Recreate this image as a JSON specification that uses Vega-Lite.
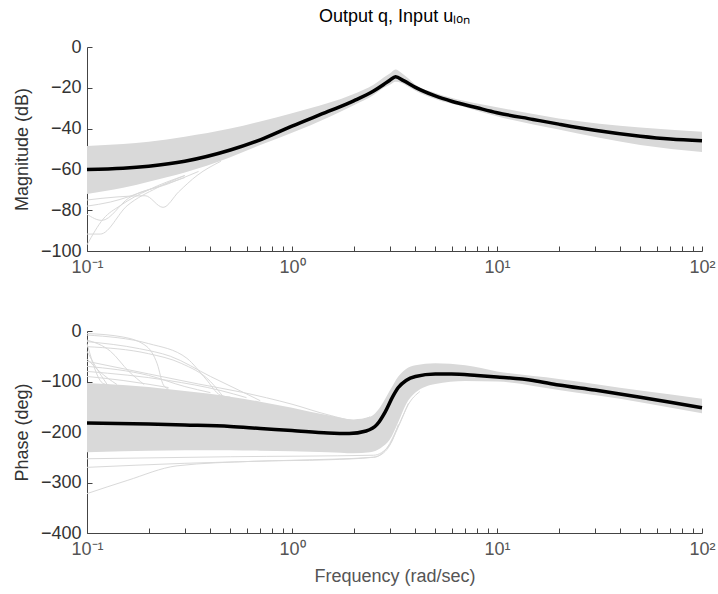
{
  "$schema": "https://vega.github.io/schema/vega-lite/v6.json",
  "padding": {"left": 13, "top": 8, "right": 2, "bottom": 4},
  "background": "white",
  "spacing": 46,
  "config": {
    "view": {"stroke": null},
    "font": "Liberation Sans",
    "axis": {
      "grid": false,
      "labelFont": "Liberation Sans",
      "titleFont": "Liberation Sans",
      "labelFontSize": 18,
      "titleFontSize": 18,
      "titleFontWeight": "normal",
      "domainColor": "#444444",
      "tickColor": "#444444",
      "tickSize": -5,
      "labelPadding": 12,
      "domainWidth": 1,
      "tickWidth": 1
    },
    "axisX": {"labelColor": "#555555", "titleColor": "#555555", "labelFlush": false, "labelOverlap": false},
    "axisY": {"labelColor": "#333333", "titleColor": "#333333", "labelPadding": 11, "titlePadding": 9}
  },
  "datasets": {
    "magBand": [
      {"f": 0.1, "hi": -48.5, "lo": -72},
      {"f": 0.15, "hi": -47.6, "lo": -69},
      {"f": 0.2, "hi": -46.5, "lo": -66},
      {"f": 0.3, "hi": -44, "lo": -61.5},
      {"f": 0.5, "hi": -40, "lo": -54},
      {"f": 0.7, "hi": -36.5, "lo": -48},
      {"f": 1.0, "hi": -32.5, "lo": -42},
      {"f": 1.5, "hi": -27.5, "lo": -34.5},
      {"f": 2.0, "hi": -23, "lo": -28.5},
      {"f": 2.5, "hi": -18.5, "lo": -23.5},
      {"f": 2.8, "hi": -15, "lo": -20},
      {"f": 3.0, "hi": -13, "lo": -18.5},
      {"f": 3.2, "hi": -11, "lo": -17},
      {"f": 3.4, "hi": -12.5, "lo": -17.5},
      {"f": 3.7, "hi": -15.5, "lo": -19.5},
      {"f": 4.0, "hi": -18.5, "lo": -21.5},
      {"f": 5.0, "hi": -22.5, "lo": -25.5},
      {"f": 7.0, "hi": -26.5, "lo": -29.5},
      {"f": 10, "hi": -29.5, "lo": -34},
      {"f": 20, "hi": -35, "lo": -40.5},
      {"f": 50, "hi": -39.5, "lo": -48},
      {"f": 100, "hi": -41.5, "lo": -51.5}
    ],
    "magMean": [
      {"f": 0.1, "v": -60},
      {"f": 0.15, "v": -59.4},
      {"f": 0.2, "v": -58.4},
      {"f": 0.3, "v": -56},
      {"f": 0.5, "v": -50.5},
      {"f": 0.7, "v": -45.5},
      {"f": 1.0, "v": -38.8},
      {"f": 1.5, "v": -31.6},
      {"f": 2.0, "v": -26.4},
      {"f": 2.5, "v": -21.6},
      {"f": 2.8, "v": -18.4},
      {"f": 3.0, "v": -16.3},
      {"f": 3.2, "v": -14.6},
      {"f": 3.5, "v": -16.5},
      {"f": 4.0, "v": -19.8},
      {"f": 5.0, "v": -24},
      {"f": 6.0, "v": -26.6},
      {"f": 8.0, "v": -29.8},
      {"f": 10, "v": -32.2},
      {"f": 15, "v": -35.5},
      {"f": 20, "v": -37.8},
      {"f": 30, "v": -40.8},
      {"f": 50, "v": -43.7},
      {"f": 70, "v": -45.1},
      {"f": 100, "v": -46}
    ],
    "magOut": [
      {"id": "m1", "f": 0.1, "v": -75},
      {"id": "m1", "f": 0.14, "v": -73.5},
      {"id": "m1", "f": 0.192, "v": -72.9},
      {"id": "m1", "f": 0.235, "v": -78.6},
      {"id": "m1", "f": 0.28, "v": -71},
      {"id": "m1", "f": 0.344, "v": -63},
      {"id": "m1", "f": 0.45, "v": -56},
      {"id": "m2", "f": 0.1, "v": -91.7},
      {"id": "m2", "f": 0.116, "v": -91.7},
      {"id": "m2", "f": 0.157, "v": -77.8},
      {"id": "m2", "f": 0.22, "v": -69},
      {"id": "m2", "f": 0.3, "v": -63},
      {"id": "m3", "f": 0.1, "v": -97},
      {"id": "m3", "f": 0.12, "v": -84.3},
      {"id": "m3", "f": 0.145, "v": -77.8},
      {"id": "m3", "f": 0.2, "v": -70},
      {"id": "m3", "f": 0.3, "v": -63},
      {"id": "m4", "f": 0.1, "v": -82},
      {"id": "m4", "f": 0.118, "v": -85},
      {"id": "m4", "f": 0.16, "v": -74},
      {"id": "m4", "f": 0.25, "v": -67},
      {"id": "m4", "f": 0.35, "v": -61},
      {"id": "m5", "f": 0.1, "v": -78},
      {"id": "m5", "f": 0.13, "v": -76},
      {"id": "m5", "f": 0.2, "v": -70},
      {"id": "m5", "f": 0.3, "v": -64}
    ],
    "phBand": [
      {"f": 0.1, "hi": -103, "lo": -240},
      {"f": 0.15, "hi": -107, "lo": -238},
      {"f": 0.2, "hi": -111, "lo": -237},
      {"f": 0.3, "hi": -119, "lo": -236},
      {"f": 0.5, "hi": -130, "lo": -236},
      {"f": 0.7, "hi": -140, "lo": -237},
      {"f": 1.0, "hi": -152, "lo": -238},
      {"f": 1.5, "hi": -167, "lo": -240},
      {"f": 2.0, "hi": -175, "lo": -242},
      {"f": 2.4, "hi": -170, "lo": -240},
      {"f": 2.7, "hi": -150, "lo": -232},
      {"f": 3.0, "hi": -118, "lo": -215},
      {"f": 3.3, "hi": -90, "lo": -180},
      {"f": 3.6, "hi": -75, "lo": -145},
      {"f": 4.0, "hi": -68, "lo": -122},
      {"f": 5.0, "hi": -64, "lo": -105},
      {"f": 7.0, "hi": -68, "lo": -99},
      {"f": 10, "hi": -80, "lo": -100},
      {"f": 20, "hi": -95, "lo": -117},
      {"f": 50, "hi": -118, "lo": -141},
      {"f": 100, "hi": -134, "lo": -163}
    ],
    "phMean": [
      {"f": 0.1, "v": -182},
      {"f": 0.2, "v": -184},
      {"f": 0.3, "v": -186},
      {"f": 0.5, "v": -189},
      {"f": 0.7, "v": -193},
      {"f": 1.0, "v": -197},
      {"f": 1.5, "v": -202},
      {"f": 1.9, "v": -203},
      {"f": 2.3, "v": -198},
      {"f": 2.6, "v": -185},
      {"f": 2.85, "v": -160},
      {"f": 3.1, "v": -130},
      {"f": 3.3, "v": -112},
      {"f": 3.6, "v": -98},
      {"f": 4.0, "v": -90},
      {"f": 5.0, "v": -85},
      {"f": 6.0, "v": -85},
      {"f": 8.0, "v": -88},
      {"f": 10, "v": -91},
      {"f": 15, "v": -98},
      {"f": 20, "v": -107},
      {"f": 30, "v": -117},
      {"f": 50, "v": -131},
      {"f": 70, "v": -141},
      {"f": 100, "v": -152}
    ],
    "phOut": [
      {"id": "p1", "f": 0.1, "v": -5},
      {"id": "p1", "f": 0.15, "v": -12},
      {"id": "p1", "f": 0.196, "v": -31},
      {"id": "p1", "f": 0.22, "v": -65},
      {"id": "p1", "f": 0.236, "v": -107},
      {"id": "p1", "f": 0.25, "v": -115},
      {"id": "p2", "f": 0.1, "v": -8},
      {"id": "p2", "f": 0.2, "v": -25},
      {"id": "p2", "f": 0.307, "v": -54},
      {"id": "p2", "f": 0.38, "v": -95},
      {"id": "p2", "f": 0.447, "v": -127},
      {"id": "p2", "f": 0.5, "v": -131},
      {"id": "p3", "f": 0.1, "v": -21},
      {"id": "p3", "f": 0.18, "v": -35},
      {"id": "p3", "f": 0.255, "v": -50},
      {"id": "p3", "f": 0.4, "v": -90},
      {"id": "p3", "f": 0.603, "v": -125},
      {"id": "p3", "f": 0.7, "v": -138},
      {"id": "p4", "f": 0.1, "v": -31},
      {"id": "p4", "f": 0.2, "v": -45},
      {"id": "p4", "f": 0.288, "v": -64},
      {"id": "p4", "f": 0.4, "v": -100},
      {"id": "p4", "f": 0.467, "v": -133},
      {"id": "p5", "f": 0.1, "v": -60},
      {"id": "p5", "f": 0.2, "v": -85},
      {"id": "p5", "f": 0.35, "v": -105},
      {"id": "p5", "f": 0.565, "v": -121},
      {"id": "p5", "f": 1.0, "v": -145},
      {"id": "p5", "f": 1.5, "v": -166},
      {"id": "p5", "f": 2.09, "v": -178},
      {"id": "p5", "f": 2.4, "v": -170},
      {"id": "p6", "f": 0.1, "v": -40},
      {"id": "p6", "f": 0.11, "v": -70},
      {"id": "p6", "f": 0.125, "v": -105},
      {"id": "p7", "f": 0.1, "v": -55},
      {"id": "p7", "f": 0.115, "v": -80},
      {"id": "p7", "f": 0.14, "v": -106},
      {"id": "p8", "f": 0.1, "v": -25},
      {"id": "p8", "f": 0.12, "v": -104},
      {"id": "p8", "f": 0.14, "v": -110},
      {"id": "p9", "f": 0.1, "v": -18},
      {"id": "p9", "f": 0.13, "v": -40},
      {"id": "p9", "f": 0.16, "v": -80},
      {"id": "p9", "f": 0.19, "v": -106},
      {"id": "p10", "f": 0.1, "v": -70},
      {"id": "p10", "f": 0.2, "v": -88},
      {"id": "p10", "f": 0.3, "v": -110},
      {"id": "p10", "f": 0.4, "v": -122},
      {"id": "p11", "f": 0.1, "v": -80},
      {"id": "p11", "f": 0.25, "v": -98},
      {"id": "p11", "f": 0.45, "v": -118},
      {"id": "p11", "f": 0.6, "v": -132},
      {"id": "p12", "f": 0.1, "v": -90},
      {"id": "p12", "f": 0.15, "v": -98},
      {"id": "p12", "f": 0.25, "v": -112},
      {"id": "L1", "f": 0.1, "v": -322},
      {"id": "L1", "f": 0.157, "v": -296},
      {"id": "L1", "f": 0.275, "v": -267},
      {"id": "L1", "f": 0.65, "v": -258},
      {"id": "L1", "f": 1.5, "v": -255},
      {"id": "L1", "f": 2.5, "v": -250},
      {"id": "L1", "f": 2.9, "v": -235},
      {"id": "L1", "f": 3.3, "v": -190},
      {"id": "L1", "f": 3.7, "v": -145},
      {"id": "L1", "f": 4.2, "v": -120},
      {"id": "L2", "f": 0.1, "v": -270},
      {"id": "L2", "f": 0.3, "v": -262},
      {"id": "L2", "f": 1.0, "v": -256},
      {"id": "L2", "f": 2.5, "v": -250},
      {"id": "L2", "f": 2.9, "v": -232},
      {"id": "L2", "f": 3.3, "v": -188},
      {"id": "L2", "f": 3.7, "v": -143},
      {"id": "L3", "f": 0.1, "v": -253},
      {"id": "L3", "f": 0.5, "v": -249},
      {"id": "L3", "f": 2.5, "v": -246},
      {"id": "L3", "f": 3.0, "v": -225},
      {"id": "L3", "f": 3.3, "v": -185}
    ]
  },
  "vconcat": [
    {
      "width": 615,
      "height": 204,
      "title": {"text": "Output q, Input uₗₒₙ", "fontSize": 18, "fontWeight": "normal", "font": "Liberation Sans", "color": "#000000", "anchor": "middle", "frame": "group", "offset": 12},
      "layer": [
        {
          "data": {"name": "magBand"},
          "mark": {"type": "area", "color": "#d9d9d9", "interpolate": "monotone"},
          "encoding": {
            "x": {"field": "f", "type": "quantitative", "scale": {"type": "log", "domain": [0.1, 100], "nice": false},
              "axis": {"title": null, "values": [0.1,0.2,0.3,0.4,0.5,0.6,0.7,0.8,0.9,1,2,3,4,5,6,7,8,9,10,20,30,40,50,60,70,80,90,100],
                "labelExpr": "datum.value == 0.1 ? '10⁻¹' : datum.value == 1 ? '10⁰' : datum.value == 10 ? '10¹' : datum.value == 100 ? '10²' : ''"}},
            "y": {"field": "hi", "type": "quantitative", "scale": {"domain": [-100, 0], "nice": false},
              "axis": {"title": "Magnitude (dB)", "values": [0, -20, -40, -60, -80, -100]}},
            "y2": {"field": "lo"}
          }
        },
        {
          "data": {"name": "magOut"},
          "mark": {"type": "line", "color": "#d9d9d9", "strokeWidth": 1, "interpolate": "monotone"},
          "encoding": {
            "x": {"field": "f", "type": "quantitative"},
            "y": {"field": "v", "type": "quantitative"},
            "detail": {"field": "id"}
          }
        },
        {
          "data": {"name": "magMean"},
          "mark": {"type": "line", "color": "#000000", "strokeWidth": 3.5, "interpolate": "monotone"},
          "encoding": {
            "x": {"field": "f", "type": "quantitative"},
            "y": {"field": "v", "type": "quantitative"}
          }
        }
      ]
    },
    {
      "width": 615,
      "height": 202,
      "layer": [
        {
          "data": {"name": "phBand"},
          "mark": {"type": "area", "color": "#d9d9d9", "interpolate": "monotone"},
          "encoding": {
            "x": {"field": "f", "type": "quantitative", "scale": {"type": "log", "domain": [0.1, 100], "nice": false},
              "axis": {"title": "Frequency (rad/sec)", "titlePadding": 9, "values": [0.1,0.2,0.3,0.4,0.5,0.6,0.7,0.8,0.9,1,2,3,4,5,6,7,8,9,10,20,30,40,50,60,70,80,90,100],
                "labelExpr": "datum.value == 0.1 ? '10⁻¹' : datum.value == 1 ? '10⁰' : datum.value == 10 ? '10¹' : datum.value == 100 ? '10²' : ''"}},
            "y": {"field": "hi", "type": "quantitative", "scale": {"domain": [-400, 0], "nice": false},
              "axis": {"title": "Phase (deg)", "values": [0, -100, -200, -300, -400]}},
            "y2": {"field": "lo"}
          }
        },
        {
          "data": {"name": "phOut"},
          "mark": {"type": "line", "color": "#d9d9d9", "strokeWidth": 1, "interpolate": "monotone"},
          "encoding": {
            "x": {"field": "f", "type": "quantitative"},
            "y": {"field": "v", "type": "quantitative"},
            "detail": {"field": "id"}
          }
        },
        {
          "data": {"name": "phMean"},
          "mark": {"type": "line", "color": "#000000", "strokeWidth": 3.5, "interpolate": "monotone"},
          "encoding": {
            "x": {"field": "f", "type": "quantitative"},
            "y": {"field": "v", "type": "quantitative"}
          }
        }
      ]
    }
  ]
}
